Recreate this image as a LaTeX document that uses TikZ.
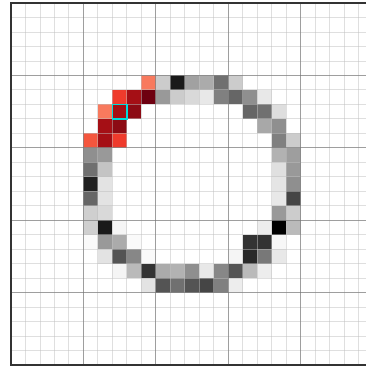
\documentclass[tikz,border=0pt]{standalone}
\usepackage{tikz}
\definecolor{rddark}{RGB}{110,0,16}
\definecolor{rddeep}{RGB}{140,11,20}
\definecolor{rdmid}{RGB}{165,15,21}
\definecolor{rdbright}{RGB}{239,59,44}
\definecolor{rdorange}{RGB}{244,86,62}
\definecolor{rdsalmon}{RGB}{248,122,94}
\definecolor{mlcyan}{RGB}{0,220,220}
\definecolor{mlframe}{RGB}{51,51,51}
\tikzset{
  gridminor/.style={black!25,opacity=0.5,line width=0.8pt},
  gridmajor/.style={black!55,opacity=0.6,line width=0.8pt},
}
\begin{document}
\begin{tikzpicture}[x=0.5cm,y=-0.5cm]
\useasboundingbox (-0.758,-0.207) rectangle (24.52,25.207);
% gray ring of pixels (col/row/percent black)
\foreach \c/\r/\v in {10/5/20,11/5/90,12/5/37,13/5/33,14/5/56,15/5/20,
  10/6/40,11/6/20,12/6/15,13/6/9,14/6/50,15/6/60,16/6/44,17/6/9,
  16/7/60,17/7/56,18/7/13,17/8/34,18/8/44,
  18/9/50,19/9/20,18/10/30,19/10/38,18/11/12,19/11/40,18/12/10,19/12/44,
  18/13/9,19/13/73,18/14/40,19/14/20,17/15/7,18/15/100,19/15/27,
  16/16/80,17/16/80,18/16/3,15/17/4,16/17/84,17/17/53,18/17/9,
  5/10/44,6/10/40,5/11/56,6/11/23,5/12/87,6/12/11,5/13/60,6/13/11,
  5/14/19,6/14/15,5/15/19,6/15/90,7/15/4,5/16/2,6/16/40,7/16/33,8/16/2,
  6/17/11,7/17/67,8/17/47,9/17/2,
  7/18/4,8/18/27,9/18/80,10/18/33,11/18/30,12/18/44,13/18/9,14/18/47,15/18/67,16/18/27,17/18/7,
  9/19/11,10/19/67,11/19/56,12/19/67,13/19/73,14/19/50,15/19/7}
  {\fill[black!\v] (\c,\r) rectangle ++(1,1);}
% red part of the ring
\foreach \c/\r/\k in {9/5/rdsalmon,7/6/rdbright,8/6/rdmid,9/6/rddark,
  6/7/rdsalmon,7/7/rdmid,8/7/rddeep,6/8/rdmid,7/8/rddeep,
  5/9/rdorange,6/9/rdmid,7/9/rdbright}
  {\fill[\k] (\c,\r) rectangle ++(1,1);}
% grid
\foreach \i in {1,...,24} {\draw[gridminor] (\i,0) -- (\i,25);}
\foreach \i in {1,...,24} {\draw[gridminor] (0,\i) -- (24.52,\i);}
\foreach \i in {5,10,...,20} {\draw[gridmajor] (\i,0) -- (\i,25); \draw[gridmajor] (0,\i) -- (24.52,\i);}
% frame, open on the right
\draw[mlframe,line width=1.3pt] (24.52,0) -- (0,0) -- (0,25) -- (24.52,25);
% marked pixel
\draw[mlcyan,line width=1.6pt] (7,7) rectangle ++(1,1);
\end{tikzpicture}
\end{document}
